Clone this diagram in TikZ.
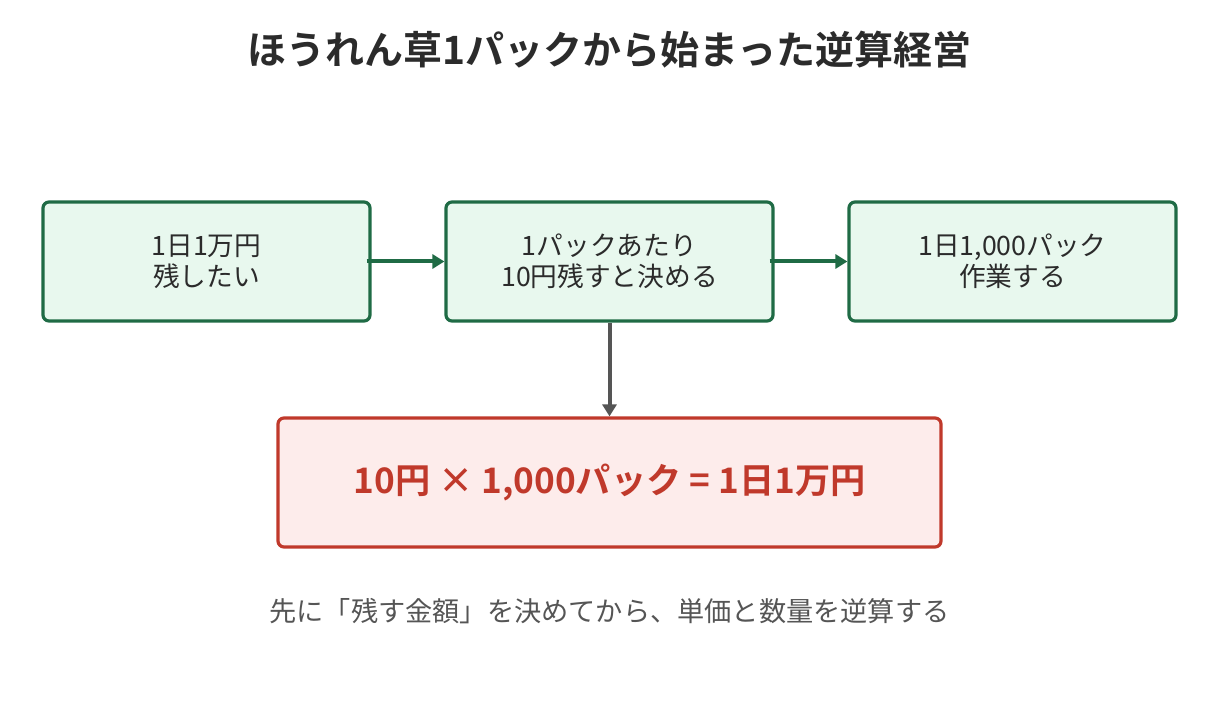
\documentclass[tikz,border=0pt]{standalone}
\usepackage{fontspec}
\setmainfont{Noto Sans CJK JP}[BoldFont={Noto Sans CJK JP Bold}]
\usetikzlibrary{arrows.meta}
\definecolor{gstroke}{HTML}{1F6B45}
\definecolor{gfill}{HTML}{E8F8EE}
\definecolor{rstroke}{HTML}{C0392B}
\definecolor{rfill}{HTML}{FDECEB}
\definecolor{greyarrow}{HTML}{555555}
\definecolor{titlecol}{HTML}{2B2B2B}
\definecolor{notecol}{HTML}{555555}
\tikzset{
  gbox/.style={draw=gstroke, fill=gfill, line width=3.2pt, rounded corners=6pt,
    minimum width=327pt, minimum height=119pt, align=center, text=titlecol,
    font=\fontsize{26.7}{31}\selectfont, inner sep=0pt},
  rbox/.style={draw=rstroke, fill=rfill, line width=3.2pt, rounded corners=6pt,
    minimum width=663pt, minimum height=129pt, align=center, text=rstroke,
    font=\bfseries\fontsize{35.2}{40}\selectfont, inner sep=0pt},
  garrow/.style={draw=gstroke, line width=4pt, -{Triangle[length=12pt,width=14pt]}},
  darrow/.style={draw=greyarrow, line width=4pt, -{Triangle[length=12pt,width=14pt]}},
}
\begin{document}
\begin{tikzpicture}[x=1pt,y=-1pt]
\useasboundingbox (0,0) rectangle (1219,714);
\node[font=\bfseries\fontsize{39}{44}\selectfont, text=titlecol] (title) at (609.5,50) {ほうれん草1パックから始まった逆算経営};
\node[gbox] (b1) at (206.5,261.5) {1日1万円\\残したい};
\node[gbox] (b2) at (609.5,261.5) {1パックあたり\\10円残すと決める};
\node[gbox] (b3) at (1012.5,261.5) {1日1,000パック\\作業する};
\node[rbox] (r) at (609.5,482.5) {10円 × 1,000パック = 1日1万円};
\node[font=\fontsize{27.2}{30}\selectfont, text=notecol] (note) at (609.5,611) {先に「残す金額」を決めてから、単価と数量を逆算する};
\draw[garrow] ([xshift=-5pt]b1.east) -- (b2.west);
\draw[garrow] ([xshift=-5pt]b2.east) -- (b3.west);
\draw[darrow] (b2.south) -- (r.north);
\end{tikzpicture}
\end{document}
